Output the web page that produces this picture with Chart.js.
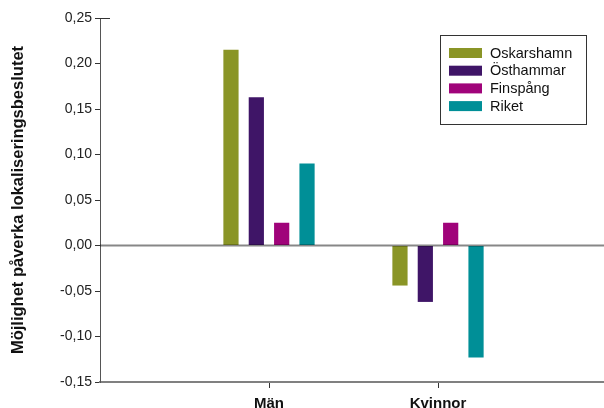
<!DOCTYPE html>
<html>
<head>
<meta charset="utf-8">
<script src="https://cdn.jsdelivr.net/npm/chart.js@4.4.1/dist/chart.umd.min.js"></script>
<style>
  html, body { margin: 0; padding: 0; background: #fff; overflow: hidden; }
  canvas { display: block; }
</style>
</head>
<body>
<canvas id="c" width="614" height="408" style="width:614px;height:408px"></canvas>
<script>
// Categories and series
const categories = ['Män', 'Kvinnor'];
const seriesNames = ['Oskarshamn', 'Östhammar', 'Finspång', 'Riket'];
const oskarshamn = [0.215, -0.044];
const osthammar = [0.163, -0.062];
const finspang = [0.025, 0.025];
const riket = [0.090, -0.123];
const yTicks = [-0.15, -0.10, -0.05, 0.00, 0.05, 0.10, 0.15, 0.20, 0.25];

const colors = ['#8a9526', '#3f1567', '#a0037a', '#008f97'];
const FONT = "'Liberation Sans', Arial, Helvetica, sans-serif";

// empty slots at both ends so the two groups sit at 1/3 and 2/3 of the axis
const labels = ['', ...categories, ''];
const pad = arr => [null, ...arr, null];

const seriesValues = [oskarshamn, osthammar, finspang, riket];
const datasets = seriesNames.map((name, i) => ({
  label: name,
  data: pad(seriesValues[i]),
  backgroundColor: colors[i],
  borderWidth: 0,
  categoryPercentage: 0.6,
  barPercentage: 0.6
}));

// zero line drawn over the bars, plus the small top tick crossing the axis
const zeroLine = {
  id: 'zeroLine',
  afterDatasetsDraw(chart) {
    const { ctx, chartArea, scales } = chart;
    const y0 = scales.y.getPixelForValue(0);
    ctx.save();
    ctx.strokeStyle = 'rgba(0,0,0,0.47)';
    ctx.lineWidth = 2;
    ctx.beginPath();
    ctx.moveTo(chartArea.left, y0);
    ctx.lineTo(chartArea.right, y0);
    ctx.stroke();
    const yt = scales.y.getPixelForValue(yTicks[yTicks.length - 1]);
    ctx.strokeStyle = '#333';
    ctx.lineWidth = 1;
    ctx.beginPath();
    ctx.moveTo(chartArea.left, Math.round(yt) + 0.5);
    ctx.lineTo(chartArea.left + 10, Math.round(yt) + 0.5);
    ctx.stroke();
    ctx.restore();
  }
};

// boxed legend inside the plot, top right
const boxLegend = {
  id: 'boxLegend',
  afterDraw(chart) {
    const { ctx, chartArea } = chart;
    const w = 146, h = 89;
    const x = chartArea.right - 21 - w;
    const y = chartArea.top + 17;
    ctx.save();
    ctx.fillStyle = '#fff';
    ctx.fillRect(x, y, w, h);
    ctx.strokeStyle = '#333';
    ctx.lineWidth = 1;
    ctx.strokeRect(x + 0.5, y + 0.5, w, h);
    ctx.font = '14.5px ' + FONT;
    ctx.textBaseline = 'middle';
    chart.data.datasets.forEach((ds, i) => {
      const cy = y + 18 + i * 17.7;
      ctx.fillStyle = ds.backgroundColor;
      ctx.fillRect(x + 9, cy - 5, 33, 10);
      ctx.fillStyle = '#111';
      ctx.fillText(ds.label, x + 50, cy + 0.5);
    });
    ctx.restore();
  }
};

new Chart(document.getElementById('c'), {
  type: 'bar',
  data: { labels, datasets },
  plugins: [zeroLine, boxLegend],
  options: {
    responsive: false,
    animation: false,
    devicePixelRatio: 1,
    layout: { padding: { top: 18, right: 0, bottom: 0, left: 0 } },
    plugins: { legend: { display: false }, tooltip: { enabled: false } },
    scales: {
      x: {
        offset: false,
        afterFit(scale) { scale.height = 26; },
        border: { display: true, color: '#808080', width: 2 },
        grid: {
          offset: false,
          drawOnChartArea: false,
          drawTicks: true,
          tickLength: 6,
          color: c => (c.tick && c.tick.label === '') ? 'rgba(0,0,0,0)' : '#333',
          lineWidth: 1
        },
        ticks: {
          autoSkip: false,
          maxRotation: 0,
          padding: 7,
          color: '#111',
          font: { family: FONT, size: 15, weight: 'bold' }
        }
      },
      y: {
        min: yTicks[0],
        max: yTicks[yTicks.length - 1],
        afterFit(scale) { scale.width = 100; },
        afterBuildTicks(scale) { scale.ticks = yTicks.map(v => ({ value: v })); },
        border: { display: true, color: '#555', width: 1 },
        grid: {
          drawOnChartArea: false,
          drawTicks: true,
          tickLength: 5,
          color: '#333',
          lineWidth: 1
        },
        ticks: {
          padding: 3,
          color: '#222',
          font: { family: FONT, size: 14 },
          callback: v => v.toFixed(2).replace('.', ',')
        },
        title: {
          display: true,
          text: 'Möjlighet påverka lokaliseringsbeslutet',
          color: '#111',
          font: { family: FONT, size: 16.5, weight: 'bold' },
          padding: { top: 9, bottom: 0 }
        }
      }
    }
  }
});
</script>
</body>
</html>
